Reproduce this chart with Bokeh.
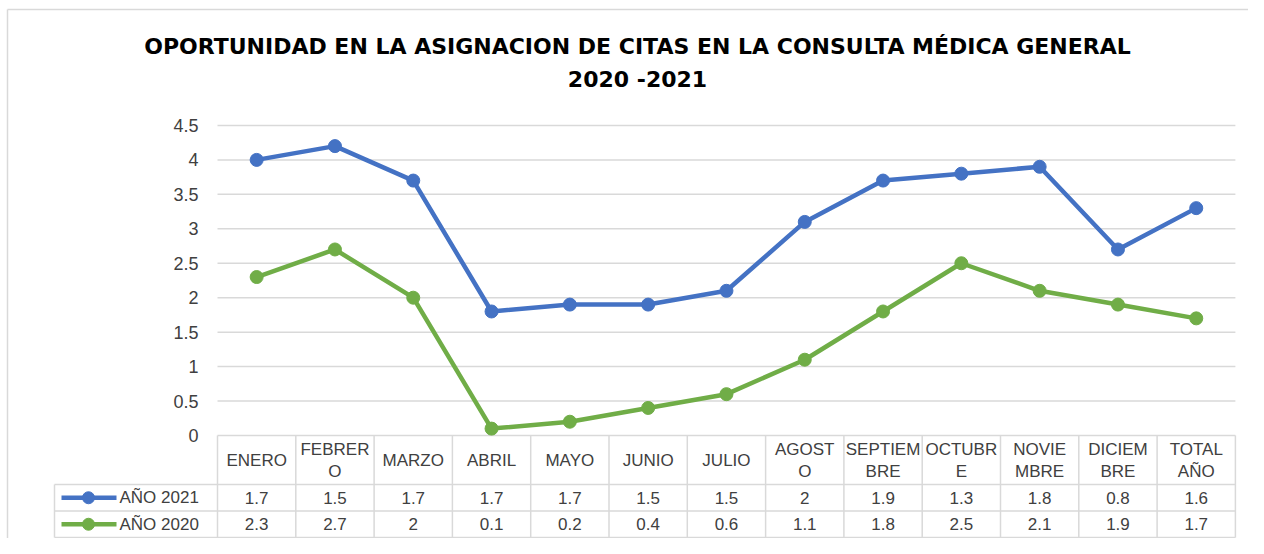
from bokeh.plotting import figure
from bokeh.models import Range1d
from bokeh.core.properties import value
from bokeh.embed import file_html
from bokeh.resources import INLINE

# ---------------- data ----------------
months = ["ENERO", "FEBRERO", "MARZO", "ABRIL", "MAYO", "JUNIO", "JULIO",
          "AGOSTO", "SEPTIEMBRE", "OCTUBRE", "NOVIEMBRE", "DICIEMBRE", "TOTAL AÑO"]
header_labels = ["ENERO", "FEBRER\nO", "MARZO", "ABRIL", "MAYO", "JUNIO", "JULIO",
                 "AGOST\nO", "SEPTIEM\nBRE", "OCTUBR\nE", "NOVIE\nMBRE", "DICIEM\nBRE", "TOTAL\nAÑO"]
anio_2021 = [1.7, 1.5, 1.7, 1.7, 1.7, 1.5, 1.5, 2, 1.9, 1.3, 1.8, 0.8, 1.6]
anio_2020 = [2.3, 2.7, 2, 0.1, 0.2, 0.4, 0.6, 1.1, 1.8, 2.5, 2.1, 1.9, 1.7]
series_names = ["AÑO 2021", "AÑO 2020"]
series_colors = ["#4472C4", "#70AD47"]
y_ticks = [0, 0.5, 1, 1.5, 2, 2.5, 3, 3.5, 4, 4.5]
y_tick_labels = ["0", "0.5", "1", "1.5", "2", "2.5", "3", "3.5", "4", "4.5"]
title_lines = ["OPORTUNIDAD EN LA ASIGNACION DE CITAS EN LA CONSULTA MÉDICA GENERAL", "2020 -2021"]

# stacked line chart (2021 stacked on 2020)
plot_2020 = list(anio_2020)
plot_2021 = [a + b for a, b in zip(anio_2020, anio_2021)]

# ---------------- layout (canvas pixels -> data) ----------------
W, H = 1248, 538
X0, PX = 217.0, 78.3     # canvas x of category 0 left edge, px per category
Y0, PY = 435.0, 68.9     # canvas y of value 0, px per unit

def xd(px):
    return (px - X0) / PX

def yd(py):
    return (Y0 - py) / PY

n = len(months)
xs = [i + 0.5 for i in range(n)]

p = figure(width=W, height=H, output_backend="svg", toolbar_location=None,
           x_range=Range1d(xd(0), xd(W)), y_range=Range1d(yd(H), yd(0)),
           min_border=0, min_border_left=0, min_border_right=0,
           min_border_top=0, min_border_bottom=0)
p.xaxis.visible = False
p.yaxis.visible = False
p.grid.visible = False
p.outline_line_color = None
p.background_fill_color = "white"
p.border_fill_color = "white"

grid_c = "#d9d9d9"
text_c = "#404040"
font = value("Liberation Sans")

# chart border (left/top)
p.segment(x0=[xd(7), xd(7)], x1=[xd(7), xd(W + 20)], y0=[yd(9), yd(9)], y1=[yd(H + 20), yd(9)],
          line_color="#d9d9d9", line_width=1.5)

# gridlines
p.segment(x0=[0] * len(y_ticks), x1=[n] * len(y_ticks), y0=y_ticks, y1=y_ticks,
          line_color=grid_c, line_width=1.5)

# y tick labels
p.text(x=[xd(198)] * len(y_ticks), y=y_ticks, text=y_tick_labels,
       text_align="right", text_baseline="middle", text_font=font,
       text_font_size="18px", text_color=text_c)

# title
p.text(x=[xd(637), xd(637)], y=[yd(46), yd(79)], text=title_lines,
       text_align="center", text_baseline="middle", text_font=value("DejaVu Sans"),
       text_font_style="bold", text_font_size="22px", text_color="#000000")

# table
r_top, r_head, r_mid, r_bot = Y0, 484, 510.5, 537
leg_left = 54
p.segment(x0=[xd(leg_left)] * 3, x1=[n] * 3, y0=[yd(r_head), yd(r_mid), yd(r_bot)],
          y1=[yd(r_head), yd(r_mid), yd(r_bot)], line_color=grid_c, line_width=1.5)
p.segment(x0=list(range(n + 1)), x1=list(range(n + 1)), y0=[yd(r_top)] * (n + 1),
          y1=[yd(r_bot)] * (n + 1), line_color=grid_c, line_width=1.5)
p.segment(x0=[xd(leg_left)], x1=[xd(leg_left)], y0=[yd(r_head)], y1=[yd(r_bot)],
          line_color=grid_c, line_width=1.5)

# header labels
one_x, one_t, two_x, two_a, two_b = [], [], [], [], []
for x, lab in zip(xs, header_labels):
    parts = lab.split("\n")
    if len(parts) == 1:
        one_x.append(x); one_t.append(parts[0])
    else:
        two_x.append(x); two_a.append(parts[0]); two_b.append(parts[1])
hdr_kw = dict(text_align="center", text_baseline="middle", text_font=font,
              text_font_size="17px", text_color=text_c)
hc = (r_top + r_head) / 2
p.text(x=one_x, y=[yd(hc)] * len(one_x), text=one_t, **hdr_kw)
p.text(x=two_x, y=[yd(hc - 11)] * len(two_x), text=two_a, **hdr_kw)
p.text(x=two_x, y=[yd(hc + 11)] * len(two_x), text=two_b, **hdr_kw)

# value rows
row_centers = [(r_head + r_mid) / 2, (r_mid + r_bot) / 2]
for vals, rc in zip([anio_2021, anio_2020], row_centers):
    p.text(x=xs, y=[yd(rc)] * n, text=[f"{v:g}" for v in vals], **hdr_kw)

# legend keys in table
for name, col, rc in zip(series_names, series_colors, row_centers):
    p.line(x=[xd(61), xd(116)], y=[yd(rc), yd(rc)], line_color=col, line_width=4.5)
    p.scatter(x=[xd(88)], y=[yd(rc)], size=12, fill_color=col, line_color=col)
    p.text(x=[xd(119)], y=[yd(rc)], text=[name], text_align="left",
           text_baseline="middle", text_font=font, text_font_size="17px", text_color=text_c)

# series lines
for vals, col in zip([plot_2021, plot_2020], series_colors):
    p.line(x=xs, y=vals, line_color=col, line_width=4.5, line_join="round")
    p.scatter(x=xs, y=vals, size=13, fill_color=col, line_color=col)

open("out.html", "w").write(file_html(p, INLINE))
